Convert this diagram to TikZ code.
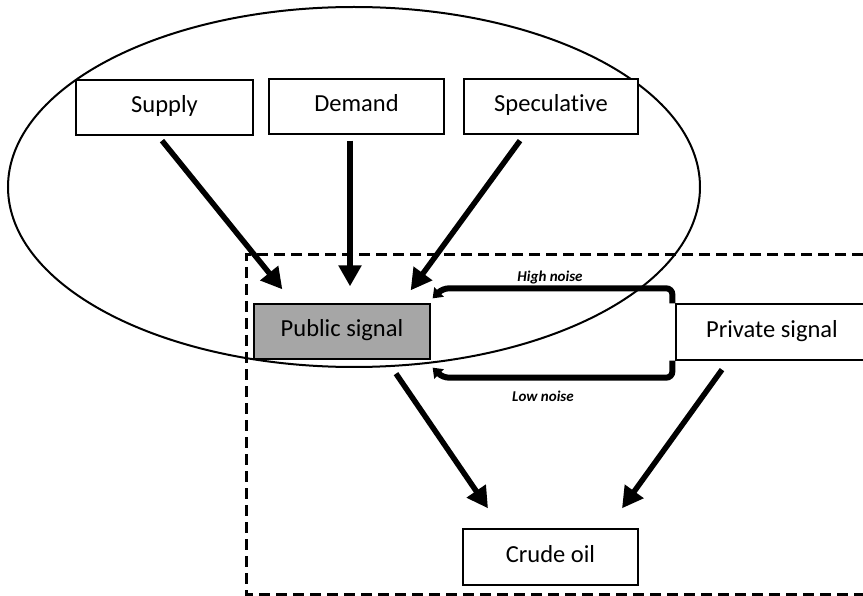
\documentclass[tikz,border=0pt]{standalone}
\usepackage{fontspec}
\setmainfont{Carlito}[RawFeature=-liga]
\usetikzlibrary{arrows.meta,calc}
\begin{document}
\begin{tikzpicture}[x=1pt,y=-1pt,
  box/.style={draw,line width=1.3pt,fill=white,inner sep=0pt,text height=16pt,text depth=5pt,font=\fontsize{24.5}{28}\selectfont},
  arr/.style={line width=5.5pt,-{Triangle[length=21pt,width=22pt]}},
  noise/.style={line width=6pt,rounded corners=6pt,-{Triangle[length=9pt,width=13pt]}},
  nlabel/.style={font=\fontsize{15}{18}\selectfont\bfseries\itshape},
  dashbox/.style={line width=3pt,dash pattern=on 11pt off 6pt}]
\useasboundingbox (0,0) rectangle (863,596);
% ellipse grouping the three sources
\draw[line width=2pt] (354,187) ellipse [x radius=346pt, y radius=180pt];
% dashed region
\draw[dashbox] (880,255) -- (246,255) -- (246,594) -- (880,594);
% boxes
\node[box,minimum width=177pt,minimum height=55pt] (sup) at (164.5,107.5) {Supply};
\node[box,minimum width=175pt,minimum height=55pt] (dem) at (356.5,106.5) {Demand};
\node[box,minimum width=174pt,minimum height=55pt] (spec) at (551,106.5) {Speculative};
\node[box,fill={rgb,255:red,166;green,166;blue,166},minimum width=176pt,minimum height=55pt] (pub) at (342,331.5) {Public signal};
\node[box,minimum width=192pt,minimum height=56pt] (priv) at (772,332) {Private signal};
\node[box,minimum width=175pt,minimum height=56pt] (crude) at (550.5,557) {Crude oil};
% arrows
\draw[arr] ($(sup.south)+(-2.5,5)$) -- ($(pub.north west)+(29,-14)$);
\draw[arr] ($(dem.south)+(-6.5,6)$) -- ($(pub.north)+(8,-17)$);
\draw[arr] ($(spec.south)+(-31,6)$) -- ($(pub.north east)+(-20,-13)$);
\draw[arr] ($(pub.south)+(54,14)$) -- ($(crude.north)+(-62.5,-20)$);
\draw[arr] ($(priv.south)+(-50,9)$) -- ($(crude.north)+(71.5,-20)$);
% noise loop
\draw[noise] ($(priv.north west)+(-3,0)$) -- ++(0,-15) -- ($(pub.north east)+(12,-15)$) -- ($(pub.north east)+(2,-5)$);
\draw[noise] ($(priv.south west)+(-3,0)$) -- ++(0,17) -- ($(pub.south east)+(12,18)$) -- ($(pub.south east)+(2,8)$);
\node[nlabel] (hn) at (550,278) {High noise};
\node[nlabel] (ln) at (543,396) {Low noise};
\end{tikzpicture}
\end{document}
